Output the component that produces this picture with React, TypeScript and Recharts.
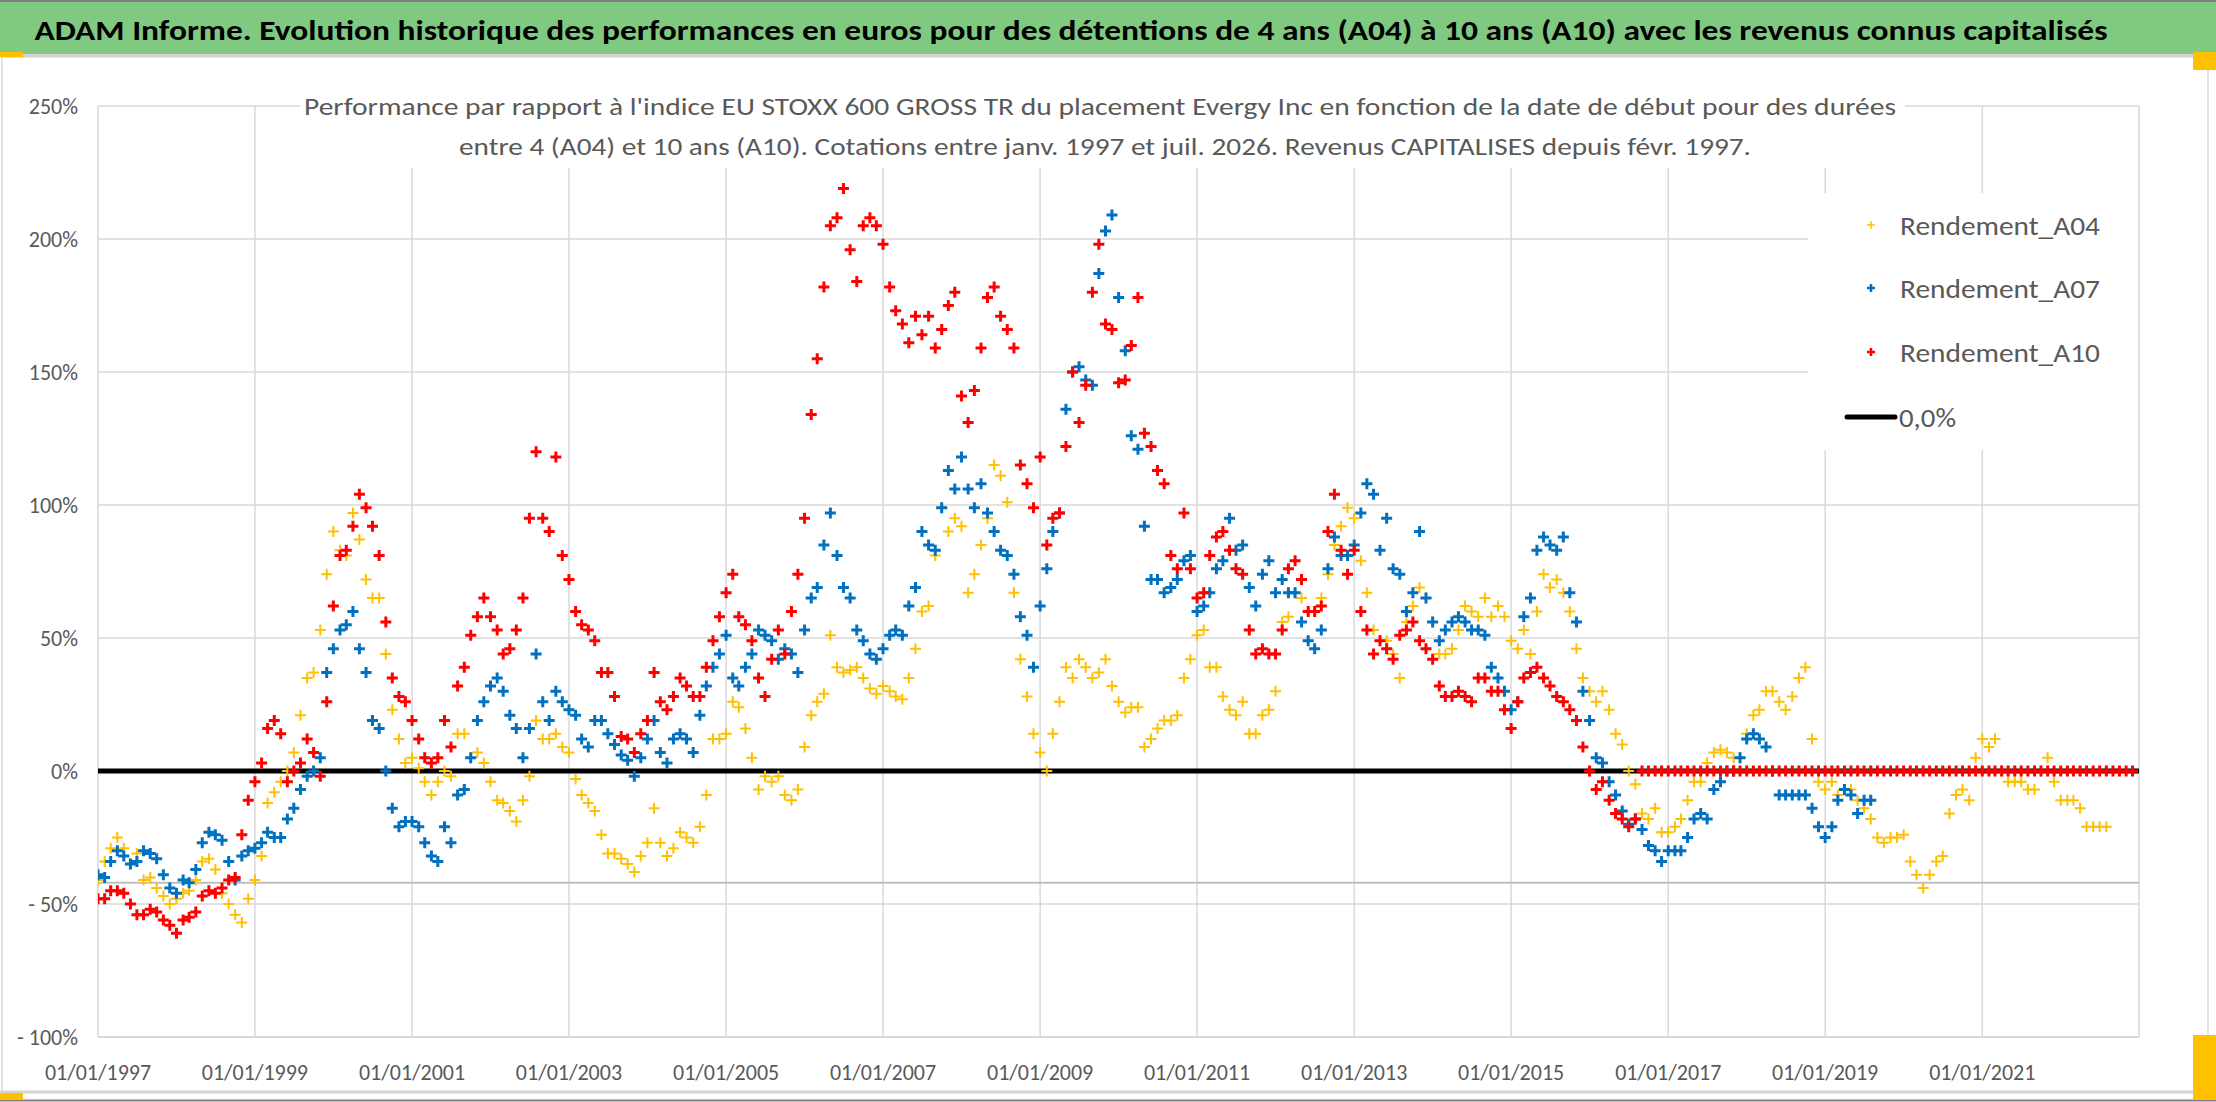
import React from 'react'
import { ComposedChart, Scatter, Line, XAxis, YAxis, CartesianGrid } from 'recharts'

const FONT = 'Carlito, Lato, "Open Sans", sans-serif'
const GREY_TEXT = '#595959'

// Monthly returns in %, first value = January 1997 (one row per year)
const START_YEAR = 1997

const A04: number[] = [
  -41, -34, -29, -25, -29, -35, -31, -41, -40, -44, -47, -50,
  -48, -46, -45, -41, -34, -33, -37, -46, -50, -54, -57, -48,
  -41, -32, -12, -8, -4, 0, 7, 21, 35, 37, 53, 74,
  90, 83, 81, 97, 87, 72, 65, 65, 44, 23, 12, 3,
  5, 1, -4, -9, -4, 0, -2, 14, 14, 5, 7, 3,
  -4, -11, -12, -15, -19, -11, -2, 19, 12, 12, 14, 9,
  7, -3, -9, -12, -15, -24, -31, -31, -33, -35, -38, -32,
  -27, -14, -27, -32, -29, -23, -25, -27, -21, -9, 12, 12,
  14, 26, 24, 16, 5, -7, -2, -4, -2, -9, -11, -7,
  9, 21, 26, 29, 51, 39, 37, 38, 39, 35, 31, 29,
  32, 30, 28, 27, 35, 46, 60, 62, 81, 99, 90, 95,
  92, 67, 74, 85, 95, 115, 111, 101, 67, 42, 28, 14,
  7, 0, 14, 26, 39, 35, 42, 39, 35, 37, 42, 32,
  26, 22, 24, 24, 9, 12, 16, 19, 19, 21, 35, 42,
  51, 53, 39, 39, 28, 23, 21, 26, 14, 14, 21, 23,
  30, 56, 58, 67, 65, 60, 60, 65, 74, 85, 92, 99,
  95, 79, 67, 53, 49, 49, 44, 35, 56, 62, 69, 65,
  56, 44, 44, 46, 53, 62, 60, 58, 65, 58, 62, 58,
  49, 46, 53, 44, 60, 74, 69, 72, 67, 60, 46, 35,
  30, 26, 30, 23, 14, 10, 0, -5, -16, -18, -14, -23,
  -23, -21, -18, -11, -4, -4, 3, 7, 8, 7, 5, 5,
  14, 21, 23, 30, 30, 26, 23, 28, 35, 39, 12, -4,
  -7, -4, -9, -7, -7, -11, -14, -18, -25, -27, -25, -25,
  -24, -34, -39, -44, -39, -34, -32, -16, -9, -7, -11, 5,
  12, 9, 12, 0, -4, -4, -4, -7, -7, 0, 5, -4,
  -11, -11, -11, -14, -21, -21, -21, -21,
]

const A07: number[] = [
  -39, -40, -34, -30, -32, -35, -34, -30, -31, -33, -39, -44,
  -46, -41, -42, -37, -27, -23, -24, -26, -34, -41, -32, -30,
  -29, -27, -23, -25, -25, -18, -14, -7, -2, 0, 5, 37,
  46, 53, 55, 60, 46, 37, 19, 16, 0, -14, -21, -19,
  -19, -21, -27, -32, -34, -21, -27, -9, -7, 5, 19, 26,
  32, 35, 30, 21, 16, 5, 16, 44, 26, 19, 30, 26,
  23, 21, 12, 9, 19, 19, 14, 10, 6, 4, -2, 5,
  12, 19, 7, 3, 12, 14, 12, 7, 21, 32, 39, 44,
  51, 35, 32, 39, 44, 53, 51, 49, 42, 46, 44, 37,
  53, 65, 69, 85, 97, 81, 69, 65, 53, 49, 44, 42,
  46, 51, 53, 51, 62, 69, 90, 85, 83, 99, 113, 106,
  118, 106, 99, 108, 97, 90, 83, 81, 74, 58, 51, 39,
  62, 76, 90, 97, 136, 150, 152, 147, 145, 187, 203, 209,
  178, 158, 126, 121, 92, 72, 72, 67, 69, 72, 79, 81,
  60, 62, 67, 76, 79, 95, 83, 85, 69, 62, 74, 79,
  67, 72, 67, 67, 56, 49, 46, 53, 76, 88, 81, 81,
  85, 97, 108, 104, 83, 95, 76, 74, 60, 67, 90, 65,
  56, 49, 53, 56, 58, 56, 53, 53, 51, 39, 35, 30,
  23, 26, 58, 65, 83, 88, 85, 83, 88, 67, 56, 30,
  19, 5, 3, -4, -9, -15, -20, -18, -22, -28, -30, -34,
  -30, -30, -30, -25, -18, -16, -18, -7, -4, 0, 0, 5,
  12, 14, 12, 9, 0, -9, -9, -9, -9, -9, -14, -21,
  -25, -21, -11, -7, -9, -16, -11, -11,
]

const A10: number[] = [
  -48, -48, -45, -45, -46, -50, -54, -54, -52, -53, -56, -58,
  -61, -56, -55, -53, -47, -45, -46, -44, -41, -40, -24, -11,
  -4, 3, 16, 19, 14, -4, 0, 3, 12, 7, -2, 26,
  62, 81, 83, 92, 104, 99, 92, 81, 56, 35, 28, 26,
  19, 12, 5, 3, 5, 19, 9, 32, 39, 51, 58, 65,
  58, 53, 44, 46, 53, 65, 95, 120, 95, 90, 118, 81,
  72, 60, 55, 53, 49, 37, 37, 28, 13, 12, 7, 14,
  19, 37, 26, 23, 28, 35, 32, 28, 28, 39, 49, 58,
  67, 74, 58, 55, 49, 35, 28, 42, 53, 44, 60, 74,
  95, 134, 155, 182, 205, 208, 219, 196, 184, 205, 208, 205,
  198, 182, 173, 168, 161, 171, 164, 171, 159, 166, 175, 180,
  141, 131, 143, 159, 178, 182, 171, 166, 159, 115, 108, 99,
  118, 85, 95, 97, 122, 150, 131, 145, 180, 198, 168, 166,
  146, 147, 160, 178, 127, 122, 113, 108, 81, 76, 97, 76,
  65, 67, 81, 88, 90, 83, 76, 74, 53, 44, 46, 44,
  44, 53, 76, 79, 72, 60, 60, 62, 90, 104, 83, 74,
  83, 60, 53, 44, 49, 46, 42, 51, 53, 56, 49, 46,
  42, 32, 28, 28, 30, 28, 26, 35, 35, 30, 30, 23,
  16, 26, 35, 37, 39, 35, 32, 28, 26, 23, 19, 9,
  0, -7, -4, -11, -16, -18, -21, -18, 0, 0, 0, 0,
  0, 0, 0, 0, 0, 0, 0, 0, 0, 0, 0, 0,
  0, 0, 0, 0, 0, 0, 0, 0, 0, 0, 0, 0,
  0, 0, 0, 0, 0, 0, 0, 0, 0, 0, 0, 0,
  0, 0, 0, 0, 0, 0, 0, 0, 0, 0, 0, 0,
  0, 0, 0, 0, 0, 0, 0, 0, 0, 0, 0, 0,
  0, 0, 0, 0, 0, 0, 0, 0, 0, 0, 0, 0,
]

const X_TICK_YEARS = [1997, 1999, 2001, 2003, 2005, 2007, 2009, 2011, 2013, 2015, 2017, 2019, 2021]
const Y_TICKS = [-100, -50, 0, 50, 100, 150, 200, 250]
const ZERO_LEVEL = 0
const AXIS_CROSS = -42 // where Excel's date axis line crosses

const TITLE =
  'ADAM Informe. Evolution historique des performances en euros pour des détentions de 4 ans (A04) à 10 ans (A10) avec les revenus connus capitalisés'
const SUBTITLE_1 =
  "Performance par rapport à l'indice EU STOXX 600 GROSS TR  du placement Evergy Inc en fonction de la date de début pour des durées"
const SUBTITLE_2 =
  'entre 4 (A04) et 10 ans (A10). Cotations entre janv. 1997 et juil. 2026. Revenus CAPITALISES depuis févr. 1997.'

const T_START = Date.UTC(1997, 0, 1)
const T_END = Date.UTC(2022, 11, 31)

const monthly = (values: number[]) => values.map((v, i) => ({ t: Date.UTC(START_YEAR, i, 1), v }))
const flat = (v: number) => [{ t: T_START, v }, { t: T_END, v }]

const SERIES = [
  { name: 'Rendement_A04', values: A04, color: '#FFC000', width: 2 },
  { name: 'Rendement_A07', values: A07, color: '#0070C0', width: 3 },
  { name: 'Rendement_A10', values: A10, color: '#FF0000', width: 3 },
]

const plus = (color: string, width: number, r = 5.5) => (p: any) => {
  if (p.cx == null || p.cy == null) return <g />
  const { cx, cy } = p
  return (
    <path
      d={`M${cx - r},${cy}H${cx + r}M${cx},${cy - r}V${cy + r}`}
      stroke={color}
      strokeWidth={width}
      fill="none"
    />
  )
}

const fmtDate = (t: number) => `01/01/${new Date(t).getUTCFullYear()}`
const fmtPct = (v: number) => (v < 0 ? `- ${Math.abs(v)}%` : `${v}%`)

const XTick = (p: any) => (
  <text x={p.x} y={p.y} dy="0.71em" textAnchor="middle" fill={GREY_TEXT} fontSize={22} fontFamily={FONT}>
    {fmtDate(p.payload.value)}
  </text>
)
const YTick = (p: any) => (
  <text x={p.x} y={p.y} dy="0.355em" textAnchor="end" fill={GREY_TEXT} fontSize={22} fontFamily={FONT}>
    {fmtPct(p.payload.value)}
  </text>
)

function Overlay() {
  const rows = [225, 288, 352]
  return (
    <svg
      width={2216}
      height={1102}
      style={{ position: 'absolute', left: 0, top: 0, pointerEvents: 'none', fontFamily: FONT }}
    >
      <rect x={2} y={57} width={2206} height={1035} fill="none" stroke="#D9D9D9" strokeWidth={1.5} />

      {/* title bar */}
      <rect x={0} y={0} width={2216} height={54} fill="#80C980" />
      <line x1={0} x2={2216} y1={1} y2={1} stroke="#7F7F7F" strokeWidth={2} />
      <line x1={0} x2={2216} y1={55.5} y2={55.5} stroke="#D4D4D4" strokeWidth={3} />
      <text x={1071} y={40} textAnchor="middle" fontSize={29} fontWeight={700} fill="#000"
        textLength={2073} lengthAdjust="spacingAndGlyphs">{TITLE}</text>

      {/* subtitle box */}
      <rect x={300} y={84} width={1605} height={84} fill="#fff" />
      <text x={1100} y={115} textAnchor="middle" fontSize={25} fontWeight={500} fill={GREY_TEXT}
        textLength={1592} lengthAdjust="spacingAndGlyphs">{SUBTITLE_1}</text>
      <text x={1105} y={155} textAnchor="middle" fontSize={25} fontWeight={500} fill={GREY_TEXT}
        textLength={1292} lengthAdjust="spacingAndGlyphs">{SUBTITLE_2}</text>

      {/* legend */}
      <rect x={1808} y={193} width={330} height={257} fill="#fff" />
      {SERIES.map((s, i) => (
        <g key={s.name}>
          {plus(s.color, s.width - 0.5, 4)({ cx: 1871, cy: rows[i] })}
          <text x={1900} y={rows[i] + 10} fontSize={27} fontWeight={500} fill={GREY_TEXT}
            textLength={200} lengthAdjust="spacingAndGlyphs">{s.name}</text>
        </g>
      ))}
      <line x1={1847} x2={1895} y1={417} y2={417} stroke="#000" strokeWidth={5} strokeLinecap="round" />
      <text x={1899} y={427} fontSize={27} fontWeight={500} fill={GREY_TEXT}
        textLength={57} lengthAdjust="spacingAndGlyphs">0,0%</text>

      {/* bottom edge */}
      <line x1={0} x2={2216} y1={1092} y2={1092} stroke="#D4D4D4" strokeWidth={3} />
      <line x1={0} x2={2216} y1={1100.5} y2={1100.5} stroke="#7F7F7F" strokeWidth={2} />

      {/* selection handles */}
      <rect x={0} y={52} width={23} height={5} fill="#FFC000" />
      <rect x={2193} y={52} width={23} height={18} fill="#FFC000" />
      <rect x={0} y={1093} width={23} height={7} fill="#FFC000" />
      <rect x={2193} y={1035} width={23} height={65} fill="#FFC000" />
    </svg>
  )
}

export default function App() {
  return (
    <div style={{ position: 'absolute', left: 0, top: 0, width: 2216, height: 1102, background: '#fff', fontFamily: FONT }}>
      <ComposedChart width={2216} height={1102} margin={{ top: 106, right: 77, bottom: 0, left: 0 }}>
        <CartesianGrid stroke="#D9D9D9" strokeWidth={1.5} />
        <XAxis
          type="number"
          dataKey="t"
          domain={[T_START, T_END]}
          ticks={X_TICK_YEARS.map((y) => Date.UTC(y, 0, 1))}
          interval={0}
          height={65}
          tick={<XTick />}
          tickLine={false}
          tickSize={6}
          tickMargin={21}
          axisLine={{ stroke: '#D9D9D9', strokeWidth: 2 }}
          allowDataOverflow
        />
        <YAxis
          type="number"
          dataKey="v"
          domain={[-100, 250]}
          ticks={Y_TICKS}
          interval={0}
          width={98}
          tick={<YTick />}
          tickLine={false}
          tickSize={6}
          tickMargin={14}
          axisLine={false}
          allowDataOverflow
        />
        <Line data={flat(AXIS_CROSS)} dataKey="v" stroke="#BFBFBF" strokeWidth={2} dot={false}
          isAnimationActive={false} legendType="none" />
        {SERIES.slice(0, 2).map((s) => (
          <Scatter key={s.name} name={s.name} data={monthly(s.values)} dataKey="v"
            shape={plus(s.color, s.width)} isAnimationActive={false} />
        ))}
        <Line data={flat(ZERO_LEVEL)} dataKey="v" stroke="#000" strokeWidth={5} dot={false}
          isAnimationActive={false} />
        <Scatter name={SERIES[2].name} data={monthly(A10)} dataKey="v"
          shape={plus(SERIES[2].color, SERIES[2].width)} isAnimationActive={false} />
      </ComposedChart>
      <Overlay />
    </div>
  )
}
